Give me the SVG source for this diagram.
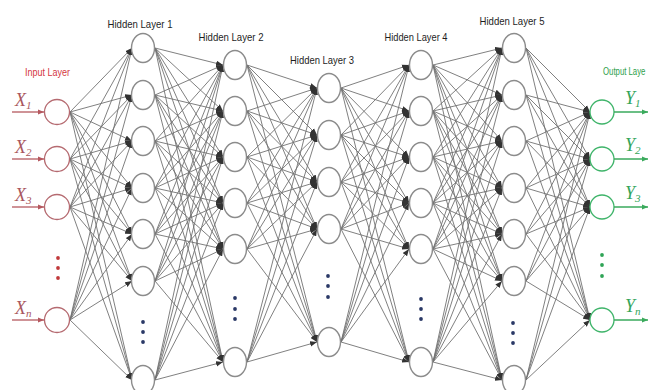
<svg xmlns="http://www.w3.org/2000/svg" width="653" height="390" viewBox="0 0 653 390">
<style>
.bg{fill:#ffffff}
.c path{stroke:#727272;stroke-width:0.9;fill:none;marker-end:url(#ah)}
.hn{fill:#ffffff;stroke:#8c8c8c;stroke-width:1.4}
.in{fill:#ffffff;stroke:#b56a70;stroke-width:1.3}
.on{fill:#ffffff;stroke:#3fb46a;stroke-width:1.3}
.ia{stroke:#b5585f;stroke-width:1.3;marker-end:url(#ra)}
.oa{stroke:#3aaa5c;stroke-width:1.3;marker-end:url(#ga)}
.hl{font-family:"Liberation Sans",Arial,sans-serif;font-size:11px;fill:#1e1e1e;text-anchor:middle}
.il{font-family:"Liberation Sans",Arial,sans-serif;font-size:10px;fill:#d4363f}
.ol{font-family:"Liberation Sans",Arial,sans-serif;font-size:10px;fill:#2e9e4a}
.xv{font-family:"Liberation Serif","Times New Roman",serif;font-style:italic;font-size:18px;fill:#a9575d}
.yv{font-family:"Liberation Serif","Times New Roman",serif;font-style:italic;font-size:18px;fill:#33a55a}
.sb{font-size:11px}
.hd{fill:#2a3866}
.id{fill:#c0393b}
.od{fill:#2fa456}
</style>
<defs>
<marker id="ah" markerUnits="userSpaceOnUse" markerWidth="7" markerHeight="6" refX="7" refY="3" orient="auto"><path d="M0,0.3 L7,3 L0,5.7 z" fill="#333333"/></marker>
<marker id="ra" markerUnits="userSpaceOnUse" markerWidth="6" markerHeight="6" refX="6" refY="3" orient="auto"><path d="M0,0.5 L6,3 L0,5.5 z" fill="#b5585f"/></marker>
<marker id="ga" markerUnits="userSpaceOnUse" markerWidth="6" markerHeight="6" refX="6" refY="3" orient="auto"><path d="M0,0.5 L6,3 L0,5.5 z" fill="#3aaa5c"/></marker>
</defs>
<rect class="bg" x="0" y="0" width="653" height="390"/>
<g id="connectors" class="c">
<path d="M70 112L132 48"/><path d="M70 112L132 95"/><path d="M70 112L132 141"/><path d="M70 112L132 188"/><path d="M70 112L132 234"/><path d="M70 112L132 281"/><path d="M70 112L132 380"/>
<path d="M70 159L132 48"/><path d="M70 159L132 95"/><path d="M70 159L132 141"/><path d="M70 159L132 188"/><path d="M70 159L132 234"/><path d="M70 159L132 281"/><path d="M70 159L132 380"/>
<path d="M70 207L132 48"/><path d="M70 207L132 95"/><path d="M70 207L132 141"/><path d="M70 207L132 188"/><path d="M70 207L132 234"/><path d="M70 207L132 281"/><path d="M70 207L132 380"/>
<path d="M70 320L132 48"/><path d="M70 320L132 95"/><path d="M70 320L132 141"/><path d="M70 320L132 188"/><path d="M70 320L132 234"/><path d="M70 320L132 281"/><path d="M70 320L132 380"/>
<path d="M155 48L223 65"/><path d="M155 48L223 111"/><path d="M155 48L223 157"/><path d="M155 48L223 203"/><path d="M155 48L223 249"/><path d="M155 48L223 362"/>
<path d="M155 95L223 65"/><path d="M155 95L223 111"/><path d="M155 95L223 157"/><path d="M155 95L223 203"/><path d="M155 95L223 249"/><path d="M155 95L223 362"/>
<path d="M155 141L223 65"/><path d="M155 141L223 111"/><path d="M155 141L223 157"/><path d="M155 141L223 203"/><path d="M155 141L223 249"/><path d="M155 141L223 362"/>
<path d="M155 188L223 65"/><path d="M155 188L223 111"/><path d="M155 188L223 157"/><path d="M155 188L223 203"/><path d="M155 188L223 249"/><path d="M155 188L223 362"/>
<path d="M155 234L223 65"/><path d="M155 234L223 111"/><path d="M155 234L223 157"/><path d="M155 234L223 203"/><path d="M155 234L223 249"/><path d="M155 234L223 362"/>
<path d="M155 281L223 65"/><path d="M155 281L223 111"/><path d="M155 281L223 157"/><path d="M155 281L223 203"/><path d="M155 281L223 249"/><path d="M155 281L223 362"/>
<path d="M155 380L223 65"/><path d="M155 380L223 111"/><path d="M155 380L223 157"/><path d="M155 380L223 203"/><path d="M155 380L223 249"/><path d="M155 380L223 362"/>
<path d="M247 65L317 88"/><path d="M247 65L317 135"/><path d="M247 65L317 182"/><path d="M247 65L317 229"/><path d="M247 65L317 342"/>
<path d="M247 111L317 88"/><path d="M247 111L317 135"/><path d="M247 111L317 182"/><path d="M247 111L317 229"/><path d="M247 111L317 342"/>
<path d="M247 157L317 88"/><path d="M247 157L317 135"/><path d="M247 157L317 182"/><path d="M247 157L317 229"/><path d="M247 157L317 342"/>
<path d="M247 203L317 88"/><path d="M247 203L317 135"/><path d="M247 203L317 182"/><path d="M247 203L317 229"/><path d="M247 203L317 342"/>
<path d="M247 249L317 88"/><path d="M247 249L317 135"/><path d="M247 249L317 182"/><path d="M247 249L317 229"/><path d="M247 249L317 342"/>
<path d="M247 362L317 88"/><path d="M247 362L317 135"/><path d="M247 362L317 182"/><path d="M247 362L317 229"/><path d="M247 362L317 342"/>
<path d="M341 88L409 65"/><path d="M341 88L409 111"/><path d="M341 88L409 157"/><path d="M341 88L409 203"/><path d="M341 88L409 249"/><path d="M341 88L409 362"/>
<path d="M341 135L409 65"/><path d="M341 135L409 111"/><path d="M341 135L409 157"/><path d="M341 135L409 203"/><path d="M341 135L409 249"/><path d="M341 135L409 362"/>
<path d="M341 182L409 65"/><path d="M341 182L409 111"/><path d="M341 182L409 157"/><path d="M341 182L409 203"/><path d="M341 182L409 249"/><path d="M341 182L409 362"/>
<path d="M341 229L409 65"/><path d="M341 229L409 111"/><path d="M341 229L409 157"/><path d="M341 229L409 203"/><path d="M341 229L409 249"/><path d="M341 229L409 362"/>
<path d="M341 342L409 65"/><path d="M341 342L409 111"/><path d="M341 342L409 157"/><path d="M341 342L409 203"/><path d="M341 342L409 249"/><path d="M341 342L409 362"/>
<path d="M433 65L502 48"/><path d="M433 65L502 95"/><path d="M433 65L502 141"/><path d="M433 65L502 188"/><path d="M433 65L502 234"/><path d="M433 65L502 281"/><path d="M433 65L502 380"/>
<path d="M433 111L502 48"/><path d="M433 111L502 95"/><path d="M433 111L502 141"/><path d="M433 111L502 188"/><path d="M433 111L502 234"/><path d="M433 111L502 281"/><path d="M433 111L502 380"/>
<path d="M433 157L502 48"/><path d="M433 157L502 95"/><path d="M433 157L502 141"/><path d="M433 157L502 188"/><path d="M433 157L502 234"/><path d="M433 157L502 281"/><path d="M433 157L502 380"/>
<path d="M433 203L502 48"/><path d="M433 203L502 95"/><path d="M433 203L502 141"/><path d="M433 203L502 188"/><path d="M433 203L502 234"/><path d="M433 203L502 281"/><path d="M433 203L502 380"/>
<path d="M433 249L502 48"/><path d="M433 249L502 95"/><path d="M433 249L502 141"/><path d="M433 249L502 188"/><path d="M433 249L502 234"/><path d="M433 249L502 281"/><path d="M433 249L502 380"/>
<path d="M433 362L502 48"/><path d="M433 362L502 95"/><path d="M433 362L502 141"/><path d="M433 362L502 188"/><path d="M433 362L502 234"/><path d="M433 362L502 281"/><path d="M433 362L502 380"/>
<path d="M526 48L590 112"/><path d="M526 48L590 159"/><path d="M526 48L590 207"/><path d="M526 48L590 320"/>
<path d="M526 95L590 112"/><path d="M526 95L590 159"/><path d="M526 95L590 207"/><path d="M526 95L590 320"/>
<path d="M526 141L590 112"/><path d="M526 141L590 159"/><path d="M526 141L590 207"/><path d="M526 141L590 320"/>
<path d="M526 188L590 112"/><path d="M526 188L590 159"/><path d="M526 188L590 207"/><path d="M526 188L590 320"/>
<path d="M526 234L590 112"/><path d="M526 234L590 159"/><path d="M526 234L590 207"/><path d="M526 234L590 320"/>
<path d="M526 281L590 112"/><path d="M526 281L590 159"/><path d="M526 281L590 207"/><path d="M526 281L590 320"/>
<path d="M526 380L590 112"/><path d="M526 380L590 159"/><path d="M526 380L590 207"/><path d="M526 380L590 320"/>
</g>
<g id="labels">
<text class="il" x="25" y="76" textLength="45" lengthAdjust="spacingAndGlyphs">Input Layer</text>
<text class="hl" x="140" y="28" textLength="65" lengthAdjust="spacingAndGlyphs">Hidden Layer 1</text>
<text class="hl" x="231" y="41" textLength="65" lengthAdjust="spacingAndGlyphs">Hidden Layer 2</text>
<text class="hl" x="322" y="64" textLength="64" lengthAdjust="spacingAndGlyphs">Hidden Layer 3</text>
<text class="hl" x="416" y="41" textLength="63" lengthAdjust="spacingAndGlyphs">Hidden Layer 4</text>
<text class="hl" x="512" y="25" textLength="65" lengthAdjust="spacingAndGlyphs">Hidden Layer 5</text>
<text class="ol" transform="translate(603 75) scale(0.78 1)" x="0" y="0">Output Laye</text>
</g>
<g id="input-1"><line class="ia" x1="12" y1="112" x2="44" y2="112"/><circle class="in" cx="57" cy="112" r="12.5"/><text class="xv" x="15" y="106">X<tspan class="sb" dy="3">1</tspan></text></g>
<g id="input-2"><line class="ia" x1="12" y1="159" x2="44" y2="159"/><circle class="in" cx="57" cy="159" r="12.5"/><text class="xv" x="15" y="153">X<tspan class="sb" dy="3">2</tspan></text></g>
<g id="input-3"><line class="ia" x1="12" y1="207" x2="44" y2="207"/><circle class="in" cx="57" cy="207" r="12.5"/><text class="xv" x="15" y="201">X<tspan class="sb" dy="3">3</tspan></text></g>
<g id="input-dots"><circle class="id" cx="58" cy="258" r="1.9"/><circle class="id" cx="58" cy="268" r="1.9"/><circle class="id" cx="58" cy="278" r="1.9"/></g>
<g id="input-n"><line class="ia" x1="12" y1="320" x2="44" y2="320"/><circle class="in" cx="57" cy="320" r="12.5"/><text class="xv" x="15" y="314">X<tspan class="sb" dy="3">n</tspan></text></g>
<g id="h1-1"><ellipse class="hn" cx="143" cy="48" rx="11.5" ry="14.5"/></g>
<g id="h1-2"><ellipse class="hn" cx="143" cy="95" rx="11.5" ry="14.5"/></g>
<g id="h1-3"><ellipse class="hn" cx="143" cy="141" rx="11.5" ry="14.5"/></g>
<g id="h1-4"><ellipse class="hn" cx="143" cy="188" rx="11.5" ry="14.5"/></g>
<g id="h1-5"><ellipse class="hn" cx="143" cy="234" rx="11.5" ry="14.5"/></g>
<g id="h1-6"><ellipse class="hn" cx="143" cy="281" rx="11.5" ry="14.5"/></g>
<g id="h1-dots"><circle class="hd" cx="143" cy="322" r="1.9"/><circle class="hd" cx="143" cy="332" r="1.9"/><circle class="hd" cx="143" cy="342" r="1.9"/></g>
<g id="h1-n"><ellipse class="hn" cx="143" cy="380" rx="11.5" ry="14.5"/></g>
<g id="h2-1"><ellipse class="hn" cx="235" cy="65" rx="11.5" ry="14.5"/></g>
<g id="h2-2"><ellipse class="hn" cx="235" cy="111" rx="11.5" ry="14.5"/></g>
<g id="h2-3"><ellipse class="hn" cx="235" cy="157" rx="11.5" ry="14.5"/></g>
<g id="h2-4"><ellipse class="hn" cx="235" cy="203" rx="11.5" ry="14.5"/></g>
<g id="h2-5"><ellipse class="hn" cx="235" cy="249" rx="11.5" ry="14.5"/></g>
<g id="h2-dots"><circle class="hd" cx="235" cy="298" r="1.9"/><circle class="hd" cx="235" cy="309" r="1.9"/><circle class="hd" cx="235" cy="319" r="1.9"/></g>
<g id="h2-n"><ellipse class="hn" cx="235" cy="362" rx="11.5" ry="14.5"/></g>
<g id="h3-1"><ellipse class="hn" cx="329" cy="88" rx="11.5" ry="14.5"/></g>
<g id="h3-2"><ellipse class="hn" cx="329" cy="135" rx="11.5" ry="14.5"/></g>
<g id="h3-3"><ellipse class="hn" cx="329" cy="182" rx="11.5" ry="14.5"/></g>
<g id="h3-4"><ellipse class="hn" cx="329" cy="229" rx="11.5" ry="14.5"/></g>
<g id="h3-dots"><circle class="hd" cx="328" cy="276" r="1.9"/><circle class="hd" cx="328" cy="286" r="1.9"/><circle class="hd" cx="328" cy="297" r="1.9"/></g>
<g id="h3-n"><ellipse class="hn" cx="329" cy="342" rx="11.5" ry="14.5"/></g>
<g id="h4-1"><ellipse class="hn" cx="421" cy="65" rx="11.5" ry="14.5"/></g>
<g id="h4-2"><ellipse class="hn" cx="421" cy="111" rx="11.5" ry="14.5"/></g>
<g id="h4-3"><ellipse class="hn" cx="421" cy="157" rx="11.5" ry="14.5"/></g>
<g id="h4-4"><ellipse class="hn" cx="421" cy="203" rx="11.5" ry="14.5"/></g>
<g id="h4-5"><ellipse class="hn" cx="421" cy="249" rx="11.5" ry="14.5"/></g>
<g id="h4-dots"><circle class="hd" cx="421" cy="299" r="1.9"/><circle class="hd" cx="421" cy="309" r="1.9"/><circle class="hd" cx="421" cy="319" r="1.9"/></g>
<g id="h4-n"><ellipse class="hn" cx="421" cy="362" rx="11.5" ry="14.5"/></g>
<g id="h5-1"><ellipse class="hn" cx="514" cy="48" rx="11.5" ry="14.5"/></g>
<g id="h5-2"><ellipse class="hn" cx="514" cy="95" rx="11.5" ry="14.5"/></g>
<g id="h5-3"><ellipse class="hn" cx="514" cy="141" rx="11.5" ry="14.5"/></g>
<g id="h5-4"><ellipse class="hn" cx="514" cy="188" rx="11.5" ry="14.5"/></g>
<g id="h5-5"><ellipse class="hn" cx="514" cy="234" rx="11.5" ry="14.5"/></g>
<g id="h5-6"><ellipse class="hn" cx="514" cy="281" rx="11.5" ry="14.5"/></g>
<g id="h5-dots"><circle class="hd" cx="513" cy="323" r="1.9"/><circle class="hd" cx="513" cy="333" r="1.9"/><circle class="hd" cx="513" cy="343" r="1.9"/></g>
<g id="h5-n"><ellipse class="hn" cx="514" cy="380" rx="11.5" ry="14.5"/></g>
<g id="output-1"><circle class="on" cx="602" cy="112" r="12"/><line class="oa" x1="614" y1="112" x2="648" y2="112"/><text class="yv" x="625" y="104">Y<tspan class="sb" dy="3">1</tspan></text></g>
<g id="output-2"><circle class="on" cx="602" cy="159" r="12"/><line class="oa" x1="614" y1="159" x2="648" y2="159"/><text class="yv" x="625" y="151">Y<tspan class="sb" dy="3">2</tspan></text></g>
<g id="output-3"><circle class="on" cx="602" cy="207" r="12"/><line class="oa" x1="614" y1="207" x2="648" y2="207"/><text class="yv" x="625" y="199">Y<tspan class="sb" dy="3">3</tspan></text></g>
<g id="output-dots"><circle class="od" cx="602" cy="255" r="1.9"/><circle class="od" cx="602" cy="265" r="1.9"/><circle class="od" cx="602" cy="276" r="1.9"/></g>
<g id="output-n"><circle class="on" cx="602" cy="320" r="12"/><line class="oa" x1="614" y1="320" x2="648" y2="320"/><text class="yv" x="625" y="312">Y<tspan class="sb" dy="3">n</tspan></text></g>
</svg>
